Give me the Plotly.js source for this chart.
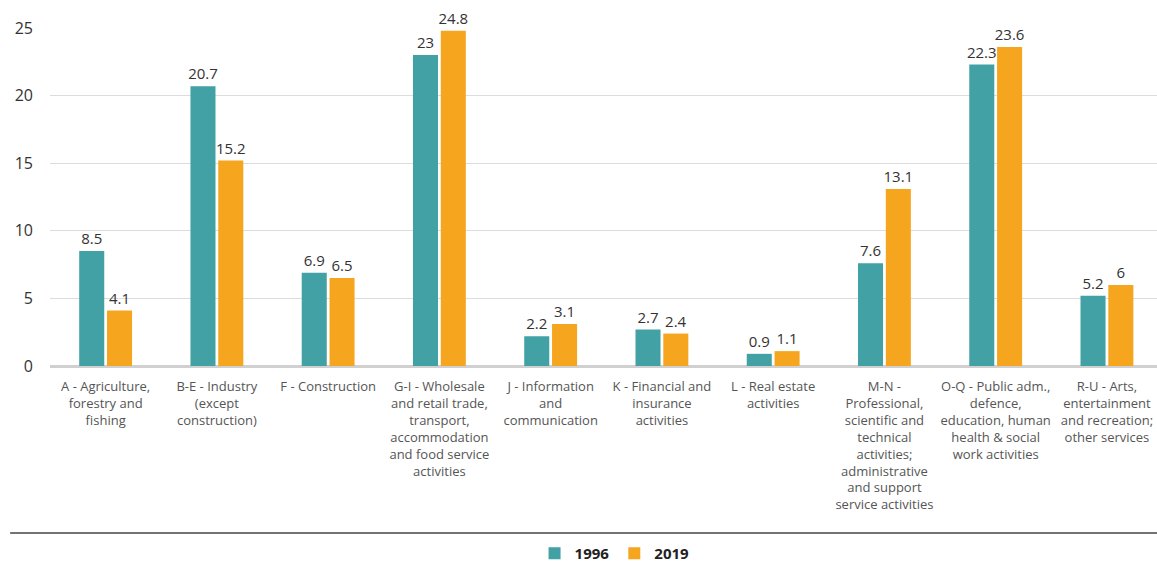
<!DOCTYPE html>
<html>
<head>
<meta charset="utf-8">
<script src="https://cdn.plot.ly/plotly-3.0.1.min.js"></script>
<style>html,body{margin:0;padding:0;background:#fff;}#chart{width:1157px;height:566px;}</style>
</head>
<body>
<div id="chart"></div>
<script>
const categories = [
  "A - Agriculture,<br>forestry and<br>fishing",
  "B-E - Industry<br>(except<br>construction)",
  "F - Construction",
  "G-I - Wholesale<br>and retail trade,<br>transport,<br>accommodation<br>and food service<br>activities",
  "J - Information<br>and<br>communication",
  "K - Financial and<br>insurance<br>activities",
  "L - Real estate<br>activities",
  "M-N -<br>Professional,<br>scientific and<br>technical<br>activities;<br>administrative<br>and support<br>service activities",
  "O-Q - Public adm.,<br>defence,<br>education, human<br>health & social<br>work activities",
  "R-U - Arts,<br>entertainment<br>and recreation;<br>other services"
];
const values1996 = [8.5, 20.7, 6.9, 23, 2.2, 2.7, 0.9, 7.6, 22.3, 5.2];
const values2019 = [4.1, 15.2, 6.5, 24.8, 3.1, 2.4, 1.1, 13.1, 23.6, 6];
const yTicks = [0, 5, 10, 15, 20, 25];

const valueFont = {family: "Open Sans, sans-serif", size: 15, color: "#333"};

const traces = [
  {type: "bar", name: "1996", x: categories, y: values1996, marker: {color: "#42a1a4"},
   text: values1996.map(String), textposition: "outside", constraintext: "none", textfont: valueFont, cliponaxis: false},
  {type: "bar", name: "2019", x: categories, y: values2019, marker: {color: "#f6a51f"},
   text: values2019.map(String), textposition: "outside", constraintext: "none", textfont: valueFont, cliponaxis: false}
];

const layout = {
  width: 1157, height: 566,
  margin: {l: 50, r: 0, t: 28, b: 200, autoexpand: false},
  paper_bgcolor: "#fff", plot_bgcolor: "#fff",
  barmode: "group", bargap: 0.5, bargroupgap: 0.1,
  showlegend: true,
  legend: {orientation: "h", xref: "paper", x: 0.51, xanchor: "center", yref: "container", y: 0.022, yanchor: "middle",
           font: {family: "Open Sans, sans-serif", size: 15, color: "#222", weight: "bold"}, itemwidth: 30, traceorder: "normal"},
  xaxis: {type: "category", range: [-0.5, 9.45], automargin: false,
          tickfont: {family: "Open Sans, sans-serif", size: 13, color: "#555"},
          ticklabelstandoff: 11,
          tickangle: 0, showgrid: false, showline: false, zeroline: false, ticks: ""},
  yaxis: {range: [0, 25], tickvals: yTicks, ticktext: yTicks.map(String), showgrid: true, gridcolor: "#dcdcdc", gridwidth: 1,
          automargin: false,
          zeroline: true, zerolinecolor: "#d0d0d0", zerolinewidth: 3, showline: false, ticks: "",
          ticklabelstandoff: 16, tickfont: {family: "Open Sans, sans-serif", size: 16, color: "#333"}},
  shapes: [
    {type: "line", xref: "paper", yref: "paper", x0: -0.036, x1: 1, y0: -0.494, y1: -0.494, line: {color: "#444", width: 1.5}}
  ]
};

Plotly.newPlot("chart", traces, layout, {displayModeBar: false, staticPlot: true});
</script>
</body>
</html>
